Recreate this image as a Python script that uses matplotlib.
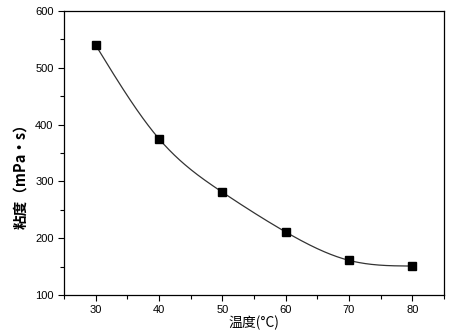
import matplotlib
matplotlib.use('Agg')
import matplotlib.pyplot as plt
import numpy as np
from matplotlib.ticker import MultipleLocator

plt.rcParams['font.family'] = ['Liberation Sans', 'Noto Sans CJK SC', 'DejaVu Sans']

temp = [30, 40, 50, 60, 70, 80]
visc = [540, 375, 281, 211, 161, 151]


def natural_spline(x, y, xs):
    # plain natural cubic spline, to draw the smooth line through the points
    x = np.asarray(x, float)
    y = np.asarray(y, float)
    n = len(x)
    h = np.diff(x)
    A = np.zeros((n, n))
    b = np.zeros(n)
    A[0, 0] = A[-1, -1] = 1
    for i in range(1, n - 1):
        A[i, i - 1] = h[i - 1]
        A[i, i] = 2 * (h[i - 1] + h[i])
        A[i, i + 1] = h[i]
        b[i] = 6 * ((y[i + 1] - y[i]) / h[i] - (y[i] - y[i - 1]) / h[i - 1])
    M = np.linalg.solve(A, b)
    idx = np.clip(np.searchsorted(x, xs) - 1, 0, n - 2)
    x0, x1 = x[idx], x[idx + 1]
    hh = x1 - x0
    t0 = x1 - xs
    t1 = xs - x0
    return (M[idx] * t0 ** 3 / (6 * hh) + M[idx + 1] * t1 ** 3 / (6 * hh)
            + (y[idx] / hh - M[idx] * hh / 6) * t0
            + (y[idx + 1] / hh - M[idx + 1] * hh / 6) * t1)


fig = plt.figure(figsize=(4.64, 3.30), dpi=100)
ax = fig.add_axes([64 / 464, 35 / 330, 380 / 464, 284 / 330])

xs = np.linspace(30.5, 80, 300)
ax.plot(xs, natural_spline(temp, visc, xs), color='#333333', lw=0.9)
ax.plot(temp, visc, 's', color='black', ms=5.5)

ax.set_xlim(25, 85)
ax.set_ylim(100, 600)
ax.xaxis.set_major_locator(MultipleLocator(10))
ax.xaxis.set_minor_locator(MultipleLocator(5))
ax.yaxis.set_major_locator(MultipleLocator(100))
ax.yaxis.set_minor_locator(MultipleLocator(50))
ax.tick_params(which='both', direction='out', top=False, right=False,
               labelsize=8, width=0.8)
ax.tick_params(which='major', length=4)
ax.tick_params(which='minor', length=3)
for s in ax.spines.values():
    s.set_linewidth(0.9)

ax.set_xlabel('温度(°C)', fontsize=10, labelpad=0,
              family=['Noto Sans CJK SC', 'DejaVu Sans'])
ax.set_ylabel('粘度（mPa・s）', fontsize=10.5, fontweight='bold',
              family=['Noto Sans CJK SC', 'DejaVu Sans'])
ax.yaxis.set_label_coords(-0.095, 0.43)

plt.savefig('out.png', dpi=100)
